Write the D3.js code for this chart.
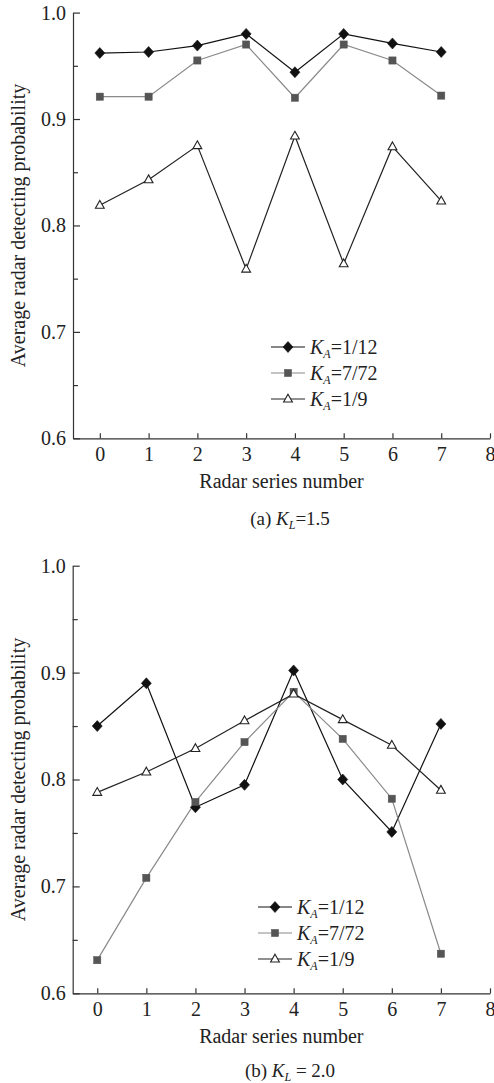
<!DOCTYPE html>
<html><head><meta charset="utf-8">
<script src="https://cdn.jsdelivr.net/npm/d3@7"></script>
<style>
html,body{margin:0;padding:0;background:#fff;}
svg{display:block;font-family:"Liberation Serif","Times New Roman",serif;}
</style></head>
<body>
<svg id="c" width="494" height="1083"></svg>
<script>
// ---- data ----
const radarSeries = [0,1,2,3,4,5,6,7];
const xTicks = [0,1,2,3,4,5,6,7,8];
const yMajorTicks = [0.6,0.7,0.8,0.9,1.0];
const yMinorTicks = [0.65,0.75,0.85,0.95];
const legendLabels = ["1/12","7/72","1/9"];

const kl15_KA_1_12 = [0.962,0.963,0.969,0.980,0.944,0.980,0.971,0.963];
const kl15_KA_7_72 = [0.921,0.921,0.955,0.970,0.920,0.970,0.955,0.922];
const kl15_KA_1_9  = [0.819,0.843,0.875,0.759,0.884,0.764,0.874,0.823];

const kl20_KA_1_12 = [0.850,0.890,0.774,0.795,0.902,0.800,0.751,0.852];
const kl20_KA_7_72 = [0.631,0.708,0.779,0.835,0.882,0.838,0.782,0.637];
const kl20_KA_1_9  = [0.788,0.807,0.829,0.855,0.880,0.856,0.832,0.790];

const svg = d3.select("#c");

const styles = [
  {line:"#111", marker:"diamond", fill:"#111", stroke:"#111"},
  {line:"#8a8a8a", marker:"square", fill:"#555", stroke:"#555"},
  {line:"#222", marker:"triangle", fill:"#fff", stroke:"#222"}
];

function drawMarker(g, type, x, y, st){
  if(type==="diamond"){
    g.append("path").attr("d",`M${x},${y-5.5}L${x+5},${y}L${x},${y+5.5}L${x-5},${y}Z`)
      .attr("fill",st.fill).attr("stroke",st.stroke).attr("stroke-width",0.6);
  } else if(type==="square"){
    g.append("rect").attr("x",x-3.6).attr("y",y-3.6).attr("width",7.2).attr("height",7.2)
      .attr("fill",st.fill).attr("stroke",st.stroke).attr("stroke-width",0.5);
  } else {
    g.append("path").attr("d",`M${x},${y-4.8}L${x+4.4},${y+3}L${x-4.4},${y+3}Z`)
      .attr("fill",st.fill).attr("stroke",st.stroke).attr("stroke-width",1.1);
  }
}

function kaLabel(t, x, y, frac){
  const tx = t.append("text").attr("x",x).attr("y",y).attr("font-size",20).attr("fill","#222");
  tx.append("tspan").attr("font-style","italic").text("K");
  tx.append("tspan").attr("font-style","italic").attr("font-size",12).attr("dy",4).text("A");
  tx.append("tspan").attr("dy",-4).text("=" + frac);
}

function chart(cfg){
  const g = svg.append("g");
  const x = d3.scaleLinear().domain([cfg.xMin, 8]).range([cfg.left, cfg.right]);
  const y = d3.scaleLinear().domain([0.6, 1.0]).range([cfg.bottom, cfg.top]);

  // x axis
  const xa = g.append("g").attr("transform",`translate(0,${cfg.bottom})`)
    .call(d3.axisBottom(x).tickValues(xTicks).tickFormat(d3.format("d"))
      .tickSizeInner(-5).tickSizeOuter(0).tickPadding(9));
  // y axis
  const ya = g.append("g").attr("transform",`translate(${cfg.left},0)`)
    .call(d3.axisLeft(y).tickValues(yMajorTicks).tickFormat(d3.format(".1f"))
      .tickSizeInner(-7).tickSizeOuter(0).tickPadding(7));
  const ym = g.append("g").attr("transform",`translate(${cfg.left},0)`)
    .call(d3.axisLeft(y).tickValues(yMinorTicks).tickFormat("").tickSizeInner(-5).tickSizeOuter(0));
  ym.select(".domain").remove();
  [xa,ya,ym].forEach(a=>{
    a.selectAll("path,line").attr("stroke","#333").attr("stroke-width",1.2);
    a.selectAll("text").attr("font-family",'"Liberation Serif",serif').attr("font-size",20).attr("fill","#222");
  });
  xa.selectAll("text").attr("dy","0.71em");

  // series
  const line = d3.line().x((d,i)=>x(radarSeries[i])).y(d=>y(d));
  cfg.series.forEach((s,k)=>{
    const st = styles[k];
    g.append("path").datum(s).attr("d",line).attr("fill","none")
      .attr("stroke",st.line).attr("stroke-width",1.2);
  });
  cfg.series.forEach((s,k)=>{
    const st = styles[k];
    s.forEach((v,i)=>drawMarker(g, st.marker, x(radarSeries[i]), y(v), st));
  });

  // legend
  legendLabels.forEach((lab,k)=>{
    const st = styles[k];
    const ly = cfg.legY + k*26;
    g.append("line").attr("x1",cfg.legX).attr("x2",cfg.legX+34).attr("y1",ly).attr("y2",ly)
      .attr("stroke",st.line).attr("stroke-width",1.2);
    drawMarker(g, st.marker, cfg.legX+17, ly, st);
    kaLabel(g, cfg.legX+39, ly+7, lab);
  });

  // axis titles
  g.append("text").attr("x",(cfg.left+cfg.right)/2).attr("y",cfg.bottom+50)
    .attr("text-anchor","middle").attr("font-size",20).attr("fill","#222").text("Radar series number");
  g.append("text").attr("transform",`translate(25,${(cfg.top+cfg.bottom)/2}) rotate(-90)`)
    .attr("text-anchor","middle").attr("font-size",20).attr("fill","#222")
    .text("Average radar detecting probability");

  // caption
  const cap = g.append("text").attr("x",cfg.capX).attr("y",cfg.capY).attr("text-anchor","middle")
    .attr("font-size",19).attr("fill","#222");
  cap.append("tspan").text(cfg.capPre);
  cap.append("tspan").attr("font-style","italic").text("K");
  cap.append("tspan").attr("font-style","italic").attr("font-size",12).attr("dy",4).text("L");
  cap.append("tspan").attr("dy",-4).text(cfg.capPost);
}

chart({left:73, right:490, top:12.6, bottom:438.3, xMin:-0.55,
  series:[kl15_KA_1_12, kl15_KA_7_72, kl15_KA_1_9],
  legX:271, legY:347, capX:290, capY:525, capPre:"(a) ", capPost:"=1.5"});
chart({left:72.7, right:490, top:565.7, bottom:993.3, xMin:-0.5,
  series:[kl20_KA_1_12, kl20_KA_7_72, kl20_KA_1_9],
  legX:258, legY:907, capX:290, capY:1077, capPre:"(b) ", capPost:" = 2.0"});
</script>
</body></html>
